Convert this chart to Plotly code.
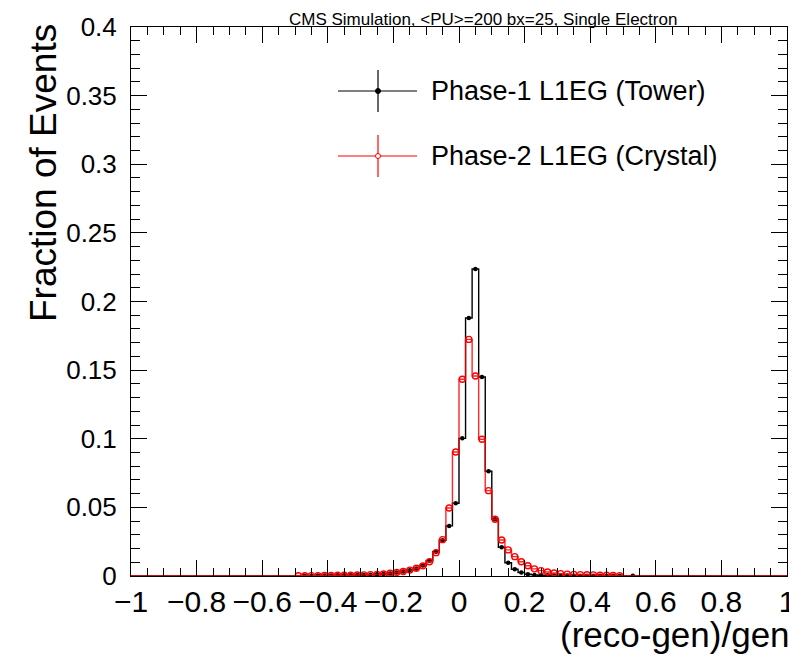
import numpy as np
import plotly.graph_objects as go

# ---- data (fraction of events per bin, bin width 0.02) ----
bin_lo, bin_hi, n_bins = -1.0, 1.0, 100
first_center = -0.49   # first listed bin centre; listed bins run to +0.53

tower_frac = [
    0.0000, 0.0002, 0.0002, 0.0003, 0.0003, 0.0004, 0.0005, 0.0005, 0.0006, 0.0007,
    0.0008, 0.0010, 0.0012, 0.0015, 0.0019, 0.0025, 0.0032, 0.0042, 0.0055, 0.0077,
    0.0112, 0.0177, 0.0260, 0.0365, 0.0530, 0.1003, 0.1880, 0.2237, 0.1450, 0.0763,
    0.0413, 0.0209, 0.0097, 0.0049, 0.0025, 0.0013, 0.0008, 0.0006, 0.0005, 0.0004,
    0.0003, 0.0003, 0.0002, 0.0002, 0.0002, 0.0002, 0.0001, 0.0001, 0.0001, 0.0001,
    0.0000, 0.0001,
]
crystal_frac = [
    0.0002, 0.0002, 0.0003, 0.0003, 0.0004, 0.0004, 0.0005, 0.0006, 0.0006, 0.0007,
    0.0008, 0.0010, 0.0012, 0.0015, 0.0020, 0.0026, 0.0033, 0.0043, 0.0057, 0.0074,
    0.0104, 0.0170, 0.0265, 0.0495, 0.0903, 0.1433, 0.1724, 0.1457, 0.0996, 0.0622,
    0.0413, 0.0262, 0.0190, 0.0141, 0.0104, 0.0075, 0.0052, 0.0039, 0.0029, 0.0022,
    0.0017, 0.0014, 0.0012, 0.0010, 0.0009, 0.0008, 0.0006, 0.0005, 0.0004, 0.0003,
    0.0000, 0.0000,
]
series_names = ["Phase-1 L1EG (Tower)", "Phase-2 L1EG (Crystal)"]
x_title = "(reco-gen)/gen"
y_title = "Fraction of Events"
plot_title = "CMS Simulation, &lt;PU&gt;=200 bx=25, Single Electron"

# ---- build full histograms ----
edges = np.linspace(bin_lo, bin_hi, n_bins + 1)
centers = 0.5 * (edges[:-1] + edges[1:])
start = int(round((first_center - bin_lo) / 0.02 - 0.5))


def full_hist(vals):
    h = np.zeros(n_bins)
    h[start:start + len(vals)] = vals
    return h


FONT = "Liberation Sans, Arial, Helvetica, sans-serif"
fig = go.Figure()

styles = [
    dict(color="black", symbol="circle", size=4.5, mline=0),
    dict(color="red", symbol="circle-open", size=6, mline=1.4),
]

for vals, name, st in zip([tower_frac, crystal_frac], series_names, styles):
    h = full_hist(vals)
    xs = np.append(edges[:-1], edges[-1])
    ys = np.append(h, h[-1])
    fig.add_trace(go.Scatter(
        x=xs, y=ys, mode="lines", line=dict(color=st["color"], width=1.4, shape="hv"),
        name=name, showlegend=False, hoverinfo="skip",
        opacity=0.85 if st["color"] == "red" else 1,
    ))
    mask = h > 0
    fig.add_trace(go.Scatter(
        x=centers[mask], y=h[mask], mode="markers", name=name, showlegend=False,
        marker=dict(color=st["color"], symbol=st["symbol"], size=st["size"],
                    line=dict(color=st["color"], width=st["mline"])),
    ))

# ---- geometry (page pixels; the page body adds an 8 px margin) ----
OFF = 8
FIG_W, FIG_H = 797 - OFF, 655 - OFF
L, R, T, B = 131 - OFF, 787 - OFF, 27 - OFF, 576 - OFF
W, H = R - L, B - T


def px(xp):
    return (xp - OFF - L) / W


def py(yp):
    return (B - (yp - OFF)) / H


legend_rows = [(91, "black", "circle", 0), (156, "red", "circle-open", 1)]
shapes = []
annotations = []
for (yc, col, sym, i) in legend_rows:
    shapes.append(dict(type="line", xref="paper", yref="paper", x0=px(338), x1=px(417),
                       y0=py(yc), y1=py(yc), line=dict(color=col, width=1.2)))
    shapes.append(dict(type="line", xref="paper", yref="paper", x0=px(378), x1=px(378),
                       y0=py(yc - 21), y1=py(yc + 21), line=dict(color=col, width=1.2)))
    shapes.append(dict(type="circle", xref="paper", yref="paper", xsizemode="pixel",
                       ysizemode="pixel", xanchor=px(378), yanchor=py(yc),
                       x0=-2.5, x1=2.5, y0=-2.5, y1=2.5,
                       line=dict(color=col, width=1),
                       fillcolor=col if sym == "circle" else "white"))
    annotations.append(dict(text=series_names[i], xref="paper", yref="paper",
                            x=px(429), y=py(yc), xanchor="left", yanchor="middle",
                            showarrow=False, font=dict(size=27, color="black", family=FONT)))

annotations.append(dict(text=x_title, xref="paper", yref="paper", x=px(792), y=py(634),
                        xanchor="right", yanchor="middle", showarrow=False,
                        font=dict(size=35, color="black", family=FONT)))
annotations.append(dict(text=y_title, xref="paper", yref="paper", x=px(44), y=py(22),
                        xanchor="center", yanchor="top", textangle=-90, showarrow=False,
                        font=dict(size=37, color="black", family=FONT)))
annotations.append(dict(text=plot_title, xref="paper", yref="paper", x=px(483), y=py(8),
                        xanchor="center", yanchor="top", showarrow=False,
                        font=dict(size=17, color="black", family=FONT)))

axis_common = dict(showgrid=False, zeroline=False, showline=True, linecolor="black",
                   linewidth=1, mirror="allticks", ticks="inside", tickcolor="black",
                   automargin=False)

fig.update_layout(
    width=FIG_W, height=FIG_H,
    margin=dict(l=L, r=FIG_W - R, t=T, b=FIG_H - B, pad=0),
    paper_bgcolor="white", plot_bgcolor="white",
    font=dict(family=FONT, color="black"),
    shapes=shapes, annotations=annotations,
    xaxis=dict(range=[-1, 1], tick0=-1, dtick=0.2, ticklen=16, tickwidth=1,
               minor=dict(dtick=0.05, tick0=-1, ticklen=8, ticks="inside", tickcolor="black"),
               tickfont=dict(size=30, color="black", family=FONT), ticklabelstandoff=-1,
               **axis_common),
    yaxis=dict(range=[0, 0.4], tick0=0, dtick=0.05, ticklen=16, tickwidth=1,
               minor=dict(dtick=0.01, tick0=0, ticklen=9, ticks="inside", tickcolor="black"),
               tickfont=dict(size=26, color="black", family=FONT), ticklabelstandoff=8,
               **axis_common),
)

fig.write_html("out.html")
